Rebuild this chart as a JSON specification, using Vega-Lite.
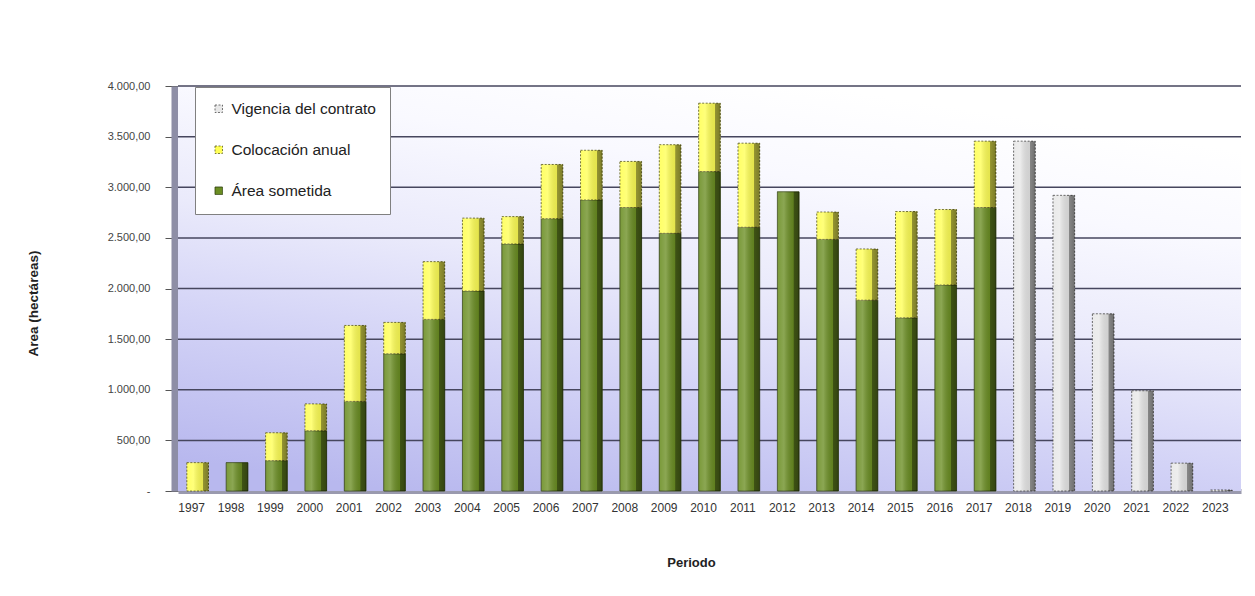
{
  "$schema": "https://vega.github.io/schema/vega-lite/v6.json",
  "description": "Area sometida, colocacion anual y vigencia del contrato 1997-2023",
  "autosize": {"type": "none"},
  "padding": {"left": 178, "top": 86, "right": 14, "bottom": 105},
  "width": 1063,
  "height": 405,
  "background": "white",
  "config": {
    "view": {"stroke": null},
    "font": "Liberation Sans",
    "legend": {
      "orient": "none",
      "legendX": 17,
      "legendY": 1,
      "padding": 14,
      "rowPadding": 24,
      "symbolType": "square",
      "symbolSize": 56,
      "symbolOffset": 2,
      "symbolStrokeColor": "#444",
      "symbolStrokeWidth": 0.8,
      "labelOffset": 5,
      "labelFontSize": 15.5,
      "labelColor": "#222",
      "labelFont": "Liberation Sans",
      "strokeColor": "#808080",
      "fillColor": "white",
      "title": null
    }
  },
  "datasets": {
    "bars": [
      {"anio": "1997", "serie": "Colocación anual", "area": 280},
      {"anio": "1998", "serie": "Área sometida", "area": 280},
      {"anio": "1999", "serie": "Área sometida", "area": 300},
      {"anio": "1999", "serie": "Colocación anual", "area": 275},
      {"anio": "2000", "serie": "Área sometida", "area": 595},
      {"anio": "2000", "serie": "Colocación anual", "area": 265},
      {"anio": "2001", "serie": "Área sometida", "area": 885},
      {"anio": "2001", "serie": "Colocación anual", "area": 750},
      {"anio": "2002", "serie": "Área sometida", "area": 1355},
      {"anio": "2002", "serie": "Colocación anual", "area": 310},
      {"anio": "2003", "serie": "Área sometida", "area": 1695},
      {"anio": "2003", "serie": "Colocación anual", "area": 570},
      {"anio": "2004", "serie": "Área sometida", "area": 1975},
      {"anio": "2004", "serie": "Colocación anual", "area": 720},
      {"anio": "2005", "serie": "Área sometida", "area": 2440},
      {"anio": "2005", "serie": "Colocación anual", "area": 270},
      {"anio": "2006", "serie": "Área sometida", "area": 2690},
      {"anio": "2006", "serie": "Colocación anual", "area": 535},
      {"anio": "2007", "serie": "Área sometida", "area": 2875},
      {"anio": "2007", "serie": "Colocación anual", "area": 490},
      {"anio": "2008", "serie": "Área sometida", "area": 2800},
      {"anio": "2008", "serie": "Colocación anual", "area": 455},
      {"anio": "2009", "serie": "Área sometida", "area": 2545},
      {"anio": "2009", "serie": "Colocación anual", "area": 875},
      {"anio": "2010", "serie": "Área sometida", "area": 3155},
      {"anio": "2010", "serie": "Colocación anual", "area": 675},
      {"anio": "2011", "serie": "Área sometida", "area": 2605},
      {"anio": "2011", "serie": "Colocación anual", "area": 830},
      {"anio": "2012", "serie": "Área sometida", "area": 2955},
      {"anio": "2013", "serie": "Área sometida", "area": 2485},
      {"anio": "2013", "serie": "Colocación anual", "area": 270},
      {"anio": "2014", "serie": "Área sometida", "area": 1885},
      {"anio": "2014", "serie": "Colocación anual", "area": 505},
      {"anio": "2015", "serie": "Área sometida", "area": 1710},
      {"anio": "2015", "serie": "Colocación anual", "area": 1050},
      {"anio": "2016", "serie": "Área sometida", "area": 2035},
      {"anio": "2016", "serie": "Colocación anual", "area": 745},
      {"anio": "2017", "serie": "Área sometida", "area": 2800},
      {"anio": "2017", "serie": "Colocación anual", "area": 655},
      {"anio": "2018", "serie": "Vigencia del contrato", "area": 3455},
      {"anio": "2019", "serie": "Vigencia del contrato", "area": 2920},
      {"anio": "2020", "serie": "Vigencia del contrato", "area": 1750},
      {"anio": "2021", "serie": "Vigencia del contrato", "area": 990},
      {"anio": "2022", "serie": "Vigencia del contrato", "area": 275},
      {"anio": "2023", "serie": "Vigencia del contrato", "area": 10}
    ]
  },
  "layer": [
    {
      "data": {"values": [{"lo": 0, "hi": 4000}]},
      "mark": {
        "type": "rect",
        "color": {
          "gradient": "linear",
          "x1": 0.2, "y1": 1, "x2": 0.6, "y2": 0,
          "stops": [
            {"offset": 0, "color": "#b8b8ee"},
            {"offset": 0.3, "color": "#d2d2f6"},
            {"offset": 0.55, "color": "#eaeafb"},
            {"offset": 0.8, "color": "#f9f9ff"},
            {"offset": 1, "color": "#ffffff"}
          ]
        }
      },
      "encoding": {
        "y": {"field": "lo", "type": "quantitative", "scale": {"domain": [0, 4000], "nice": false}},
        "y2": {"field": "hi"}
      }
    },
    {
      "data": {"values": [
        {"v": 500}, {"v": 1000}, {"v": 1500}, {"v": 2000},
        {"v": 2500}, {"v": 3000}, {"v": 3500}, {"v": 4000}
      ]},
      "mark": {"type": "rule", "color": "#46465e", "strokeWidth": 1.5},
      "encoding": {
        "y": {"field": "v", "type": "quantitative"}
      }
    },
    {
      "data": {"name": "bars"},
      "mark": {"type": "bar", "strokeWidth": 0.9},
      "encoding": {
        "x": {
          "field": "anio",
          "type": "ordinal",
          "scale": {"paddingInner": 0.45, "paddingOuter": 0.225},
          "axis": {
            "title": "Periodo",
            "titleFontSize": 13,
            "titleFontWeight": "bold",
            "titleColor": "#222",
            "titleX": 513,
            "titleY": 65,
            "labelAngle": 0,
            "labelFontSize": 12,
            "labelColor": "#333",
            "labelOffset": -6,
            "labelPadding": 11,
            "ticks": false,
            "domainColor": "#9a9aae",
            "domainWidth": 5
          }
        },
        "y": {
          "field": "area",
          "type": "quantitative",
          "stack": "zero",
          "scale": {"domain": [0, 4000], "nice": false},
          "axis": {
            "title": "Area (hectáreas)",
            "titleFontSize": 13.5,
            "titleFontWeight": "bold",
            "titleColor": "#222",
            "titleX": -138,
            "titleY": 217,
            "grid": false,
            "values": [0, 500, 1000, 1500, 2000, 2500, 3000, 3500, 4000],
            "labelExpr": "datum.value == 0 ? '-' : replace(replace(replace(format(datum.value, ',.2f'), ',', '#'), '.', ','), '#', '.')",
            "labelFontSize": 11,
            "labelColor": "#444",
            "labelPadding": 15,
            "tickSize": 13,
            "tickColor": "#555",
            "domainColor": "#8e8ea6",
            "domainWidth": 14
          }
        },
        "color": {
          "field": "serie",
          "type": "nominal",
          "scale": {
            "domain": ["Vigencia del contrato", "Colocación anual", "Área sometida"],
            "range": ["#e8e8e8", "#ffff55", "#6b8e23"]
          },
          "legend": {"title": null}
        },
        "stroke": {
          "field": "serie",
          "type": "nominal",
          "scale": {
            "domain": ["Vigencia del contrato", "Colocación anual", "Área sometida"],
            "range": ["#505050", "#5c5c20", "#2c3c0c"]
          },
          "legend": null
        },
        "strokeDash": {
          "field": "serie",
          "type": "nominal",
          "scale": {
            "domain": ["Vigencia del contrato", "Colocación anual", "Área sometida"],
            "range": [[2, 1.5], [2, 1.5], [1, 0]]
          },
          "legend": null
        },
        "order": {"field": "serie", "sort": "descending"}
      }
    },
    {
      "data": {"name": "bars"},
      "mark": {
        "type": "bar",
        "color": {
          "gradient": "linear",
          "x1": 0, "y1": 0, "x2": 1, "y2": 0,
          "stops": [
            {"offset": 0, "color": "rgba(255,255,255,0.1)"},
            {"offset": 0.3, "color": "rgba(255,255,255,0.22)"},
            {"offset": 0.74, "color": "rgba(0,0,0,0.1)"},
            {"offset": 0.75, "color": "rgba(0,0,0,0.42)"},
            {"offset": 1, "color": "rgba(0,0,0,0.52)"}
          ]
        }
      },
      "encoding": {
        "x": {"field": "anio", "type": "ordinal"},
        "y": {"field": "area", "type": "quantitative", "stack": "zero"},
        "detail": {"field": "serie"},
        "order": {"field": "serie", "sort": "descending"}
      }
    }
  ]
}
